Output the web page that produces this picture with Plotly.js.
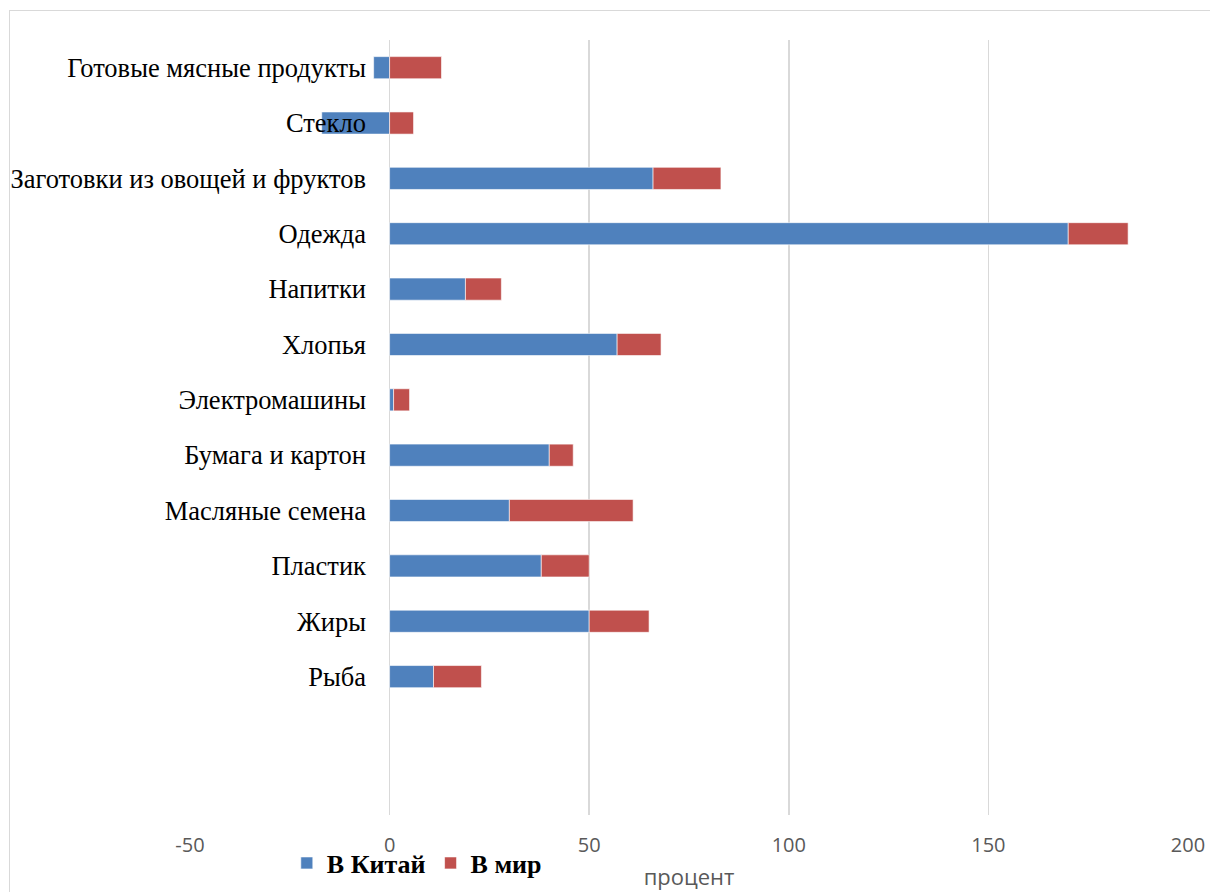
<!DOCTYPE html>
<html>
<head>
<meta charset="utf-8">
<script src="https://cdn.plot.ly/plotly-3.0.1.min.js"></script>
<style>
html,body{margin:0;padding:0;background:#fff;}
#wrap{position:relative;width:1210px;height:892px;overflow:hidden;}
#chart{width:1210px;height:892px;}
#frame{position:absolute;left:9px;top:10px;width:1240px;height:920px;border-left:1px solid #d9d9d9;border-top:1px solid #d9d9d9;pointer-events:none;}
#cover{position:absolute;left:0;top:0;width:9px;height:892px;background:#fff;pointer-events:none;}
</style>
</head>
<body>
<div id="wrap"><div id="chart"></div><div id="cover"></div><div id="frame"></div></div>
<script>
// categories, bottom to top
const categories = ["Рыба", "Жиры", "Пластик", "Масляные семена", "Бумага и картон", "Электромашины", "Хлопья", "Напитки", "Одежда", "Заготовки из овощей и фруктов", "Стекло", "Готовые мясные продукты"];
const toChina = [11, 50, 38, 30, 40, 1, 57, 19, 170, 66, -17, -4];
const toWorld = [12, 15, 12, 31, 6, 4, 11, 9, 15, 17, 6, 13];
const seriesNames = ["В Китай", "В мир"];
const xTicks = [-50, 0, 50, 100, 150, 200];

const common = {type: 'bar', orientation: 'h', y: categories, width: 0.4,
  hoverinfo: 'x+y'};
const traces = [
  Object.assign({}, common, {name: seriesNames[0], x: toChina,
    marker: {color: '#4F81BD', line: {color: 'rgba(255,255,255,0.6)', width: 1}}}),
  Object.assign({}, common, {name: seriesNames[1], x: toWorld,
    marker: {color: '#C0504D', line: {color: 'rgba(255,255,255,0.6)', width: 1}}})
];

const layout = {
  width: 1210, height: 892,
  paper_bgcolor: '#fff', plot_bgcolor: '#fff',
  margin: {l: 190, r: 22, t: 40, b: 77, autoexpand: false},
  barmode: 'relative',
  showlegend: true,
  legend: {orientation: 'h', x: 0.097, xanchor: 'left', y: -0.062, yanchor: 'middle',
    font: {family: 'Liberation Serif', size: 26, color: '#000', weight: 'bold'},
    itemclick: false, traceorder: 'normal', bgcolor: 'rgba(0,0,0,0)'},
  xaxis: {range: [-50, 200], tickvals: xTicks, ticktext: xTicks.map(String),
    automargin: false,
    showgrid: true, gridcolor: '#d9d9d9', gridwidth: 1.5,
    zeroline: true, zerolinecolor: '#d9d9d9', zerolinewidth: 1.5,
    showline: false, ticks: '', ticklabelstandoff: 16,
    tickfont: {family: 'Open Sans', size: 20, color: '#595959'},
    title: {text: 'процент', standoff: 12, font: {family: 'Open Sans', size: 22, color: '#595959'}},
    fixedrange: true},
  yaxis: {type: 'category', categoryorder: 'array', categoryarray: categories,
    range: [-2.5, 11.5], anchor: 'free', position: 0.2004, automargin: false,
    showgrid: false, zeroline: false, showline: false, ticks: '', ticklabelstandoff: 24,
    tickfont: {family: 'Liberation Serif', size: 26.5, color: '#000'},
    fixedrange: true}
};

Plotly.newPlot('chart', traces, layout, {displayModeBar: false, staticPlot: true});
</script>
</body>
</html>
